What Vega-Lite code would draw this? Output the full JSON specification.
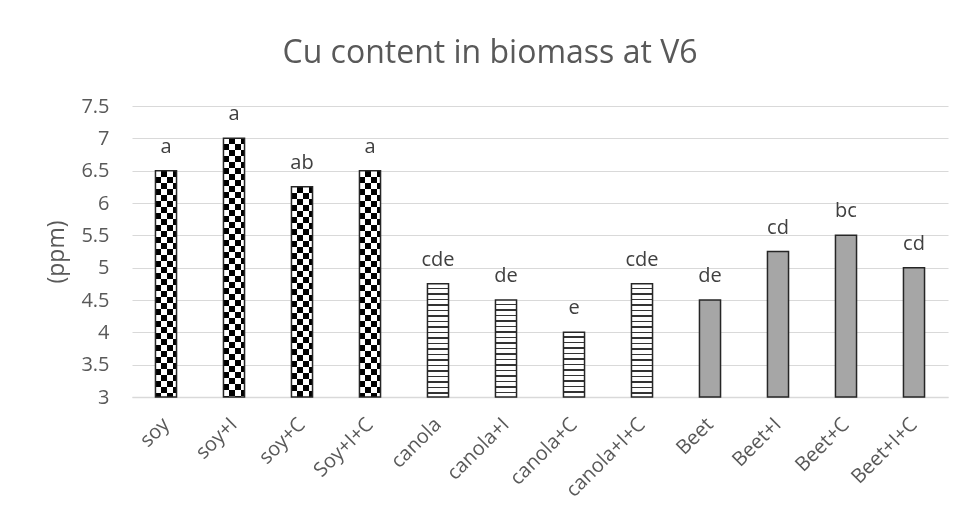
{
  "$schema": "https://vega.github.io/schema/vega-lite/v6.json",
  "width": 816,
  "height": 291,
  "autosize": "none",
  "padding": {"left": 132, "top": 106, "right": 19, "bottom": 126},
  "background": "white",
  "params": [
    {"name": "chk", "value": [
      {"offset":0,"color":"#000"},{"offset":0.02,"color":"#000"},{"offset":0.02,"color":"#fff"},{"offset":0.04,"color":"#fff"},
      {"offset":0.04,"color":"#000"},{"offset":0.06,"color":"#000"},{"offset":0.06,"color":"#fff"},{"offset":0.08,"color":"#fff"},
      {"offset":0.08,"color":"#000"},{"offset":0.1,"color":"#000"},{"offset":0.1,"color":"#fff"},{"offset":0.12,"color":"#fff"},
      {"offset":0.12,"color":"#000"},{"offset":0.14,"color":"#000"},{"offset":0.14,"color":"#fff"},{"offset":0.16,"color":"#fff"},
      {"offset":0.16,"color":"#000"},{"offset":0.18,"color":"#000"},{"offset":0.18,"color":"#fff"},{"offset":0.2,"color":"#fff"},
      {"offset":0.2,"color":"#000"},{"offset":0.22,"color":"#000"},{"offset":0.22,"color":"#fff"},{"offset":0.24,"color":"#fff"},
      {"offset":0.24,"color":"#000"},{"offset":0.26,"color":"#000"},{"offset":0.26,"color":"#fff"},{"offset":0.28,"color":"#fff"},
      {"offset":0.28,"color":"#000"},{"offset":0.3,"color":"#000"},{"offset":0.3,"color":"#fff"},{"offset":0.32,"color":"#fff"},
      {"offset":0.32,"color":"#000"},{"offset":0.34,"color":"#000"},{"offset":0.34,"color":"#fff"},{"offset":0.36,"color":"#fff"},
      {"offset":0.36,"color":"#000"},{"offset":0.38,"color":"#000"},{"offset":0.38,"color":"#fff"},{"offset":0.4,"color":"#fff"},
      {"offset":0.4,"color":"#000"},{"offset":0.42,"color":"#000"},{"offset":0.42,"color":"#fff"},{"offset":0.44,"color":"#fff"},
      {"offset":0.44,"color":"#000"},{"offset":0.46,"color":"#000"},{"offset":0.46,"color":"#fff"},{"offset":0.48,"color":"#fff"},
      {"offset":0.48,"color":"#000"},{"offset":0.5,"color":"#000"},{"offset":0.5,"color":"#fff"},{"offset":0.52,"color":"#fff"},
      {"offset":0.52,"color":"#000"},{"offset":0.54,"color":"#000"},{"offset":0.54,"color":"#fff"},{"offset":0.56,"color":"#fff"},
      {"offset":0.56,"color":"#000"},{"offset":0.58,"color":"#000"},{"offset":0.58,"color":"#fff"},{"offset":0.6,"color":"#fff"},
      {"offset":0.6,"color":"#000"},{"offset":0.62,"color":"#000"},{"offset":0.62,"color":"#fff"},{"offset":0.64,"color":"#fff"},
      {"offset":0.64,"color":"#000"},{"offset":0.66,"color":"#000"},{"offset":0.66,"color":"#fff"},{"offset":0.68,"color":"#fff"},
      {"offset":0.68,"color":"#000"},{"offset":0.7,"color":"#000"},{"offset":0.7,"color":"#fff"},{"offset":0.72,"color":"#fff"},
      {"offset":0.72,"color":"#000"},{"offset":0.74,"color":"#000"},{"offset":0.74,"color":"#fff"},{"offset":0.76,"color":"#fff"},
      {"offset":0.76,"color":"#000"},{"offset":0.78,"color":"#000"},{"offset":0.78,"color":"#fff"},{"offset":0.8,"color":"#fff"},
      {"offset":0.8,"color":"#000"},{"offset":0.82,"color":"#000"},{"offset":0.82,"color":"#fff"},{"offset":0.84,"color":"#fff"},
      {"offset":0.84,"color":"#000"},{"offset":0.86,"color":"#000"},{"offset":0.86,"color":"#fff"},{"offset":0.88,"color":"#fff"},
      {"offset":0.88,"color":"#000"},{"offset":0.9,"color":"#000"},{"offset":0.9,"color":"#fff"},{"offset":0.92,"color":"#fff"},
      {"offset":0.92,"color":"#000"},{"offset":0.94,"color":"#000"},{"offset":0.94,"color":"#fff"},{"offset":0.96,"color":"#fff"},
      {"offset":0.96,"color":"#000"},{"offset":0.98,"color":"#000"},{"offset":0.98,"color":"#fff"},{"offset":1,"color":"#fff"}
    ]},
    {"name": "zz", "value": [
      {"offset":0,"color":"#fff"},{"offset":0.028,"color":"#fff"},{"offset":0.028,"color":"#333"},{"offset":0.04,"color":"#333"},
      {"offset":0.04,"color":"#fff"},{"offset":0.068,"color":"#fff"},{"offset":0.068,"color":"#333"},{"offset":0.08,"color":"#333"},
      {"offset":0.08,"color":"#fff"},{"offset":0.108,"color":"#fff"},{"offset":0.108,"color":"#333"},{"offset":0.12,"color":"#333"},
      {"offset":0.12,"color":"#fff"},{"offset":0.148,"color":"#fff"},{"offset":0.148,"color":"#333"},{"offset":0.16,"color":"#333"},
      {"offset":0.16,"color":"#fff"},{"offset":0.188,"color":"#fff"},{"offset":0.188,"color":"#333"},{"offset":0.2,"color":"#333"},
      {"offset":0.2,"color":"#fff"},{"offset":0.228,"color":"#fff"},{"offset":0.228,"color":"#333"},{"offset":0.24,"color":"#333"},
      {"offset":0.24,"color":"#fff"},{"offset":0.268,"color":"#fff"},{"offset":0.268,"color":"#333"},{"offset":0.28,"color":"#333"},
      {"offset":0.28,"color":"#fff"},{"offset":0.308,"color":"#fff"},{"offset":0.308,"color":"#333"},{"offset":0.32,"color":"#333"},
      {"offset":0.32,"color":"#fff"},{"offset":0.348,"color":"#fff"},{"offset":0.348,"color":"#333"},{"offset":0.36,"color":"#333"},
      {"offset":0.36,"color":"#fff"},{"offset":0.388,"color":"#fff"},{"offset":0.388,"color":"#333"},{"offset":0.4,"color":"#333"},
      {"offset":0.4,"color":"#fff"},{"offset":0.428,"color":"#fff"},{"offset":0.428,"color":"#333"},{"offset":0.44,"color":"#333"},
      {"offset":0.44,"color":"#fff"},{"offset":0.468,"color":"#fff"},{"offset":0.468,"color":"#333"},{"offset":0.48,"color":"#333"},
      {"offset":0.48,"color":"#fff"},{"offset":0.508,"color":"#fff"},{"offset":0.508,"color":"#333"},{"offset":0.52,"color":"#333"},
      {"offset":0.52,"color":"#fff"},{"offset":0.548,"color":"#fff"},{"offset":0.548,"color":"#333"},{"offset":0.56,"color":"#333"},
      {"offset":0.56,"color":"#fff"},{"offset":0.588,"color":"#fff"},{"offset":0.588,"color":"#333"},{"offset":0.6,"color":"#333"},
      {"offset":0.6,"color":"#fff"},{"offset":0.628,"color":"#fff"},{"offset":0.628,"color":"#333"},{"offset":0.64,"color":"#333"},
      {"offset":0.64,"color":"#fff"},{"offset":0.668,"color":"#fff"},{"offset":0.668,"color":"#333"},{"offset":0.68,"color":"#333"},
      {"offset":0.68,"color":"#fff"},{"offset":0.708,"color":"#fff"},{"offset":0.708,"color":"#333"},{"offset":0.72,"color":"#333"},
      {"offset":0.72,"color":"#fff"},{"offset":0.748,"color":"#fff"},{"offset":0.748,"color":"#333"},{"offset":0.76,"color":"#333"},
      {"offset":0.76,"color":"#fff"},{"offset":0.788,"color":"#fff"},{"offset":0.788,"color":"#333"},{"offset":0.8,"color":"#333"},
      {"offset":0.8,"color":"#fff"},{"offset":0.828,"color":"#fff"},{"offset":0.828,"color":"#333"},{"offset":0.84,"color":"#333"},
      {"offset":0.84,"color":"#fff"},{"offset":0.868,"color":"#fff"},{"offset":0.868,"color":"#333"},{"offset":0.88,"color":"#333"},
      {"offset":0.88,"color":"#fff"},{"offset":0.908,"color":"#fff"},{"offset":0.908,"color":"#333"},{"offset":0.92,"color":"#333"},
      {"offset":0.92,"color":"#fff"},{"offset":0.948,"color":"#fff"},{"offset":0.948,"color":"#333"},{"offset":0.96,"color":"#333"},
      {"offset":0.96,"color":"#fff"},{"offset":0.988,"color":"#fff"},{"offset":0.988,"color":"#333"},{"offset":1,"color":"#333"}
    ]}
  ],
  "title": {
    "text": "Cu content in biomass at V6",
    "font": "Open Sans",
    "fontSize": 32,
    "fontWeight": "normal",
    "color": "#595959",
    "anchor": "middle",
    "frame": "group",
    "dx": -50,
    "offset": 26
  },
  "data": {
    "values": [
      {"cat": "soy", "group": "soy", "value": 6.5, "letter": "a"},
      {"cat": "soy+I", "group": "soy", "value": 7.0, "letter": "a"},
      {"cat": "soy+C", "group": "soy", "value": 6.25, "letter": "ab"},
      {"cat": "Soy+I+C", "group": "soy", "value": 6.5, "letter": "a"},
      {"cat": "canola", "group": "canola", "value": 4.75, "letter": "cde"},
      {"cat": "canola+I", "group": "canola", "value": 4.5, "letter": "de"},
      {"cat": "canola+C", "group": "canola", "value": 4.0, "letter": "e"},
      {"cat": "canola+I+C", "group": "canola", "value": 4.75, "letter": "cde"},
      {"cat": "Beet", "group": "Beet", "value": 4.5, "letter": "de"},
      {"cat": "Beet+I", "group": "Beet", "value": 5.25, "letter": "cd"},
      {"cat": "Beet+C", "group": "Beet", "value": 5.5, "letter": "bc"},
      {"cat": "Beet+I+C", "group": "Beet", "value": 5.0, "letter": "cd"}
    ]
  },
  "encoding": {
    "x": {
      "field": "cat", "type": "nominal", "sort": null,
      "scale": {"paddingInner": 0.69, "paddingOuter": 0.345},
      "axis": {
        "title": null, "labelAngle": -45, "labelAlign": "right", "labelBaseline": "middle",
        "labelFont": "Open Sans", "labelFontSize": 20, "labelColor": "#595959",
        "labelPadding": 24, "ticks": false, "domainColor": "#d9d9d9", "domainWidth": 1.5
      }
    },
    "y": {
      "field": "value", "type": "quantitative",
      "scale": {"domain": [3, 7.5], "zero": false, "nice": false},
      "axis": {
        "title": "(ppm)", "values": [3, 3.5, 4, 4.5, 5, 5.5, 6, 6.5, 7, 7.5], "format": "~g",
        "labelFont": "Open Sans", "labelFontSize": 20, "labelColor": "#595959", "labelPadding": 23,
        "titleFont": "Open Sans", "titleFontSize": 23, "titleFontWeight": "normal", "titleColor": "#595959",
        "titlePadding": 12, "domain": false, "ticks": false, "gridColor": "#d9d9d9", "gridWidth": 1.2
      }
    }
  },
  "layer": [
    {
      "transform": [{"filter": "datum.group === 'soy'"}],
      "mark": {"type": "bar"},
      "encoding": {
        "y2": {"datum": 3},
        "fill": {"value": {"expr": "{gradient: 'linear', x1: 0, y1: 0, x2: 0, y2: 300 / ((datum.value - 3) * 64.667), stops: chk}"}}
      }
    },
    {
      "transform": [{"filter": "datum.group === 'soy'"}],
      "mark": {
        "type": "bar", "blend": "difference",
        "fill": {"gradient": "linear", "x1": 0, "y1": 0, "x2": 1, "y2": 0, "stops": [
          {"offset": 0, "color": "#fff"}, {"offset": 0.28, "color": "#fff"},
          {"offset": 0.28, "color": "#000"}, {"offset": 0.57, "color": "#000"},
          {"offset": 0.57, "color": "#fff"}, {"offset": 0.85, "color": "#fff"},
          {"offset": 0.85, "color": "#000"}, {"offset": 1, "color": "#000"}
        ]}
      },
      "encoding": {"y2": {"datum": 3}}
    },
    {
      "transform": [{"filter": "datum.group === 'canola'"}],
      "mark": {"type": "bar"},
      "encoding": {
        "y2": {"datum": 3},
        "fill": {"value": {"expr": "{gradient: 'linear', x1: 0, y1: 0, x2: 0, y2: 137.5 / ((datum.value - 3) * 64.667), stops: zz}"}}
      }
    },
    {
      "mark": {"type": "bar", "stroke": "#262626", "strokeWidth": 1.5},
      "encoding": {
        "y2": {"datum": 3},
        "fill": {"condition": {"test": "datum.group === 'Beet'", "value": "#a6a6a6"}, "value": "transparent"}
      }
    },
    {
      "mark": {"type": "text", "font": "Open Sans", "fontSize": 20, "color": "#404040", "baseline": "alphabetic", "dy": -18},
      "encoding": {"text": {"field": "letter"}}
    }
  ],
  "config": {"view": {"stroke": null}}
}
